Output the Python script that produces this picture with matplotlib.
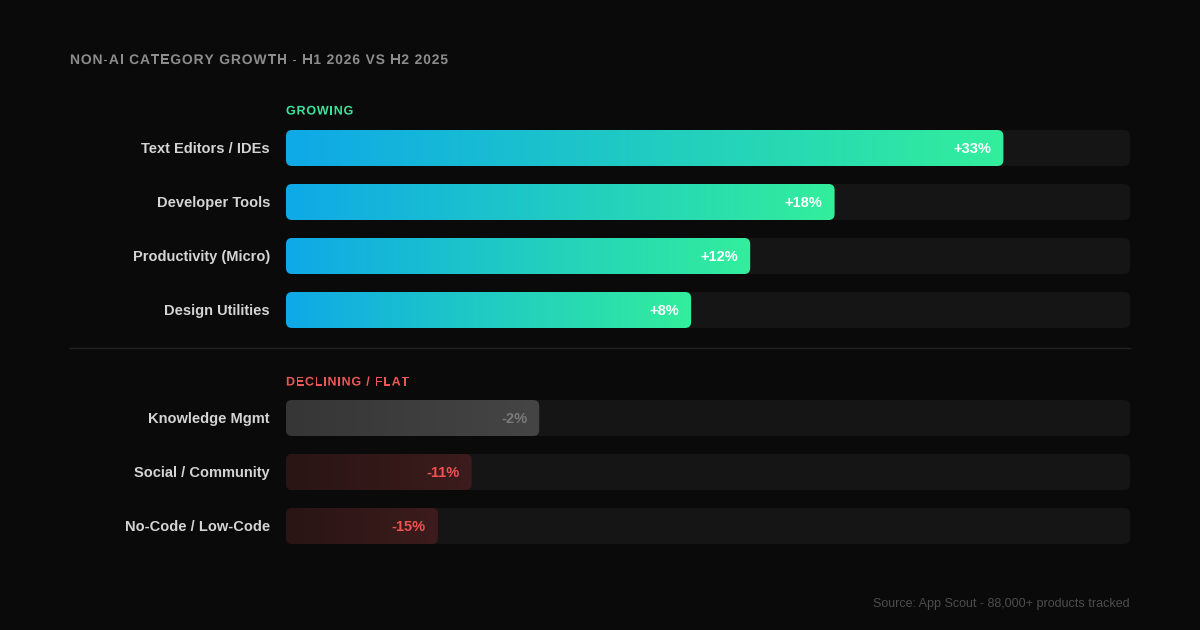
import numpy as np
import matplotlib.pyplot as plt
from matplotlib.patches import FancyBboxPatch, PathPatch
from matplotlib.colors import LinearSegmentedColormap
from matplotlib.font_manager import FontProperties, findfont
from matplotlib.ft2font import FT2Font
from matplotlib.textpath import TextPath

plt.rcParams["font.family"] = ["Liberation Sans", "DejaVu Sans"]

# data
categories = ["Text Editors / IDEs", "Developer Tools", "Productivity (Micro)",
              "Design Utilities", "Knowledge Mgmt", "Social / Community",
              "No-Code / Low-Code"]
values = [33, 18, 12, 8, -2, -11, -15]
# share of the track each bar fills (%)
bar_widths = [85, 65, 55, 48, 30, 22, 18]
rows = [0, 1, 2, 3, 5, 6, 7]

W, H = 1200, 630
DPI = 100
BG = "#0a0a0a"
TRACK = "#151515"

fig = plt.figure(figsize=(12, 6.3), dpi=DPI, facecolor=BG)
bold_prop = FontProperties(family="Liberation Sans", weight="bold")
bold_font = FT2Font(findfont(bold_prop))


def fx(px):
    return px / W


def fy(py):
    return 1 - py / H


def base(py, size_pt):
    # baseline so that capitals sit centred on py
    return fy(py + 0.36 * size_pt * DPI / 72)


# overlay in pixel units for the letter-spaced headings
ov = fig.add_axes([0, 0, 1, 1], zorder=5)
ov.set_xlim(0, W)
ov.set_ylim(0, H)
ov.axis("off")


def spaced_text(x_px, y_px, s, spacing, size, color):
    # letter-spaced bold text, glyph by glyph
    bold_font.set_size(size, DPI)
    size_px = size * DPI / 72
    x = x_px
    y = H - (y_px + 0.36 * size_px)
    for ch in s:
        if ch != " ":
            tp = TextPath((x, y), ch, size=size_px, prop=bold_prop)
            ov.add_patch(PathPatch(tp, facecolor=color, edgecolor="none",
                                   linewidth=0))
        x += bold_font.load_char(ord(ch)).linearHoriAdvance / 65536 + spacing


# bar area: track from x=286..1130, rows 54px apart, first centre at y=148
ax = fig.add_axes([fx(286), fy(553), 844 / W, 432 / H])
ax.set_facecolor(BG)
ax.axis("off")

bar_h = 36 / 54
x_per_px = 100 / 844
y_per_px = 1 / 54
aspect = y_per_px / x_per_px

grow_cmap = LinearSegmentedColormap.from_list("grow", ["#0ea9e8", "#33ee9c"])
grey_cmap = LinearSegmentedColormap.from_list("grey", ["#363636", "#454545"])
red_cmap = LinearSegmentedColormap.from_list("red", ["#2a1414", "#3c1c1c"])


def rounded(x0, y0, w, h, color="none"):
    p = FancyBboxPatch((x0, y0), w, h,
                       boxstyle=f"round,pad=0,rounding_size={6 * x_per_px}",
                       mutation_aspect=aspect, facecolor=color,
                       edgecolor="none", linewidth=0)
    ax.add_patch(p)
    return p


grad = np.linspace(0, 1, 256).reshape(1, -1)

for cat, val, width, row in zip(categories, values, bar_widths, rows):
    y0 = row - bar_h / 2
    rounded(0, y0, 100, bar_h, TRACK)

    if val > 0:
        cmap, txt_color = grow_cmap, "white"
        label = f"+{val}%"
    elif val > -5:
        cmap, txt_color = grey_cmap, "#7a7a7a"
        label = f"{val}%"
    else:
        cmap, txt_color = red_cmap, "#f05252"
        label = f"{val}%"

    clip = rounded(0, y0, width, bar_h)
    im = ax.imshow(grad, cmap=cmap, aspect="auto",
                   extent=(0, width, y0 + bar_h, y0), zorder=2)
    im.set_clip_path(clip)

    cy = 148 + row * 54
    fig.text(fx(286 + width / x_per_px - 12), base(cy, 10.5), label,
             ha="right", va="baseline", color=txt_color, fontsize=10.5,
             fontweight="bold", zorder=3)
    fig.text(fx(270), base(cy, 10.5), cat, ha="right", va="baseline",
             color="#d4d4d4", fontsize=10.5, fontweight="bold")

ax.set_xlim(0, 100)
ax.set_ylim(7.5, -0.5)

# title and section labels
spaced_text(70, 59, "NON-AI CATEGORY GROWTH - H1 2026 VS H2 2025", 0.85,
            10, "#8c8c8c")
spaced_text(286, 110, "GROWING", 0.8, 9, "#3ae39b")
spaced_text(286, 381, "DECLINING / FLAT", 0.8, 9, "#ec5656")

# separator
fig.add_artist(plt.Line2D([fx(70), fx(1130)], [fy(348), fy(348)],
                          color="#222222", linewidth=1))

fig.text(fx(1130), base(603, 9), "Source: App Scout - 88,000+ products tracked",
         color="#4d4d4d", fontsize=9, ha="right", va="baseline")

fig.savefig("out.png", dpi=DPI, facecolor=BG)
